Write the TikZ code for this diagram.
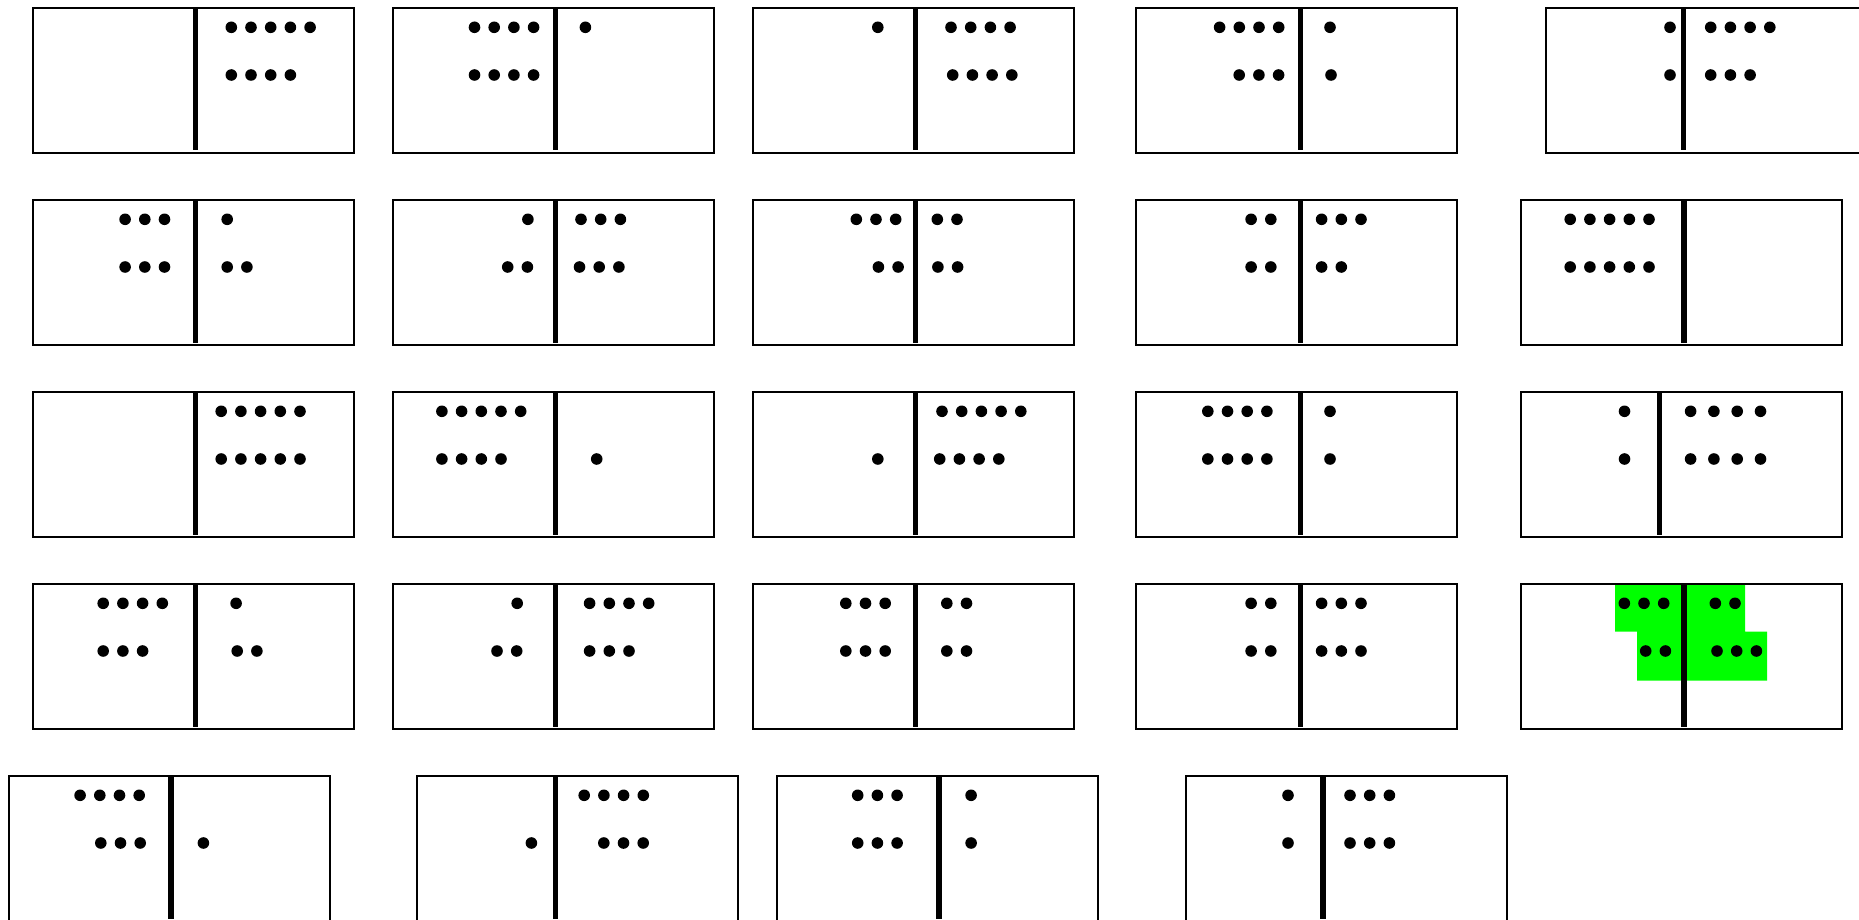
\documentclass[tikz,border=0pt]{standalone}
\usetikzlibrary{calc}
\definecolor{hitgreen}{RGB}{0,255,0}
\tikzset{
  tile/.style = {draw=black, line width=1pt},
  bar/.style  = {draw=black, line width=2.7pt},
  pip/.style  = {fill=black},
  hit/.style  = {fill=hitgreen},
}

\begin{document}
\begin{tikzpicture}[x=0.5pt, y=-0.5pt]
  \useasboundingbox (0,0) rectangle (1859,920);
  % highlighted tile
  \fill[hit] (1615,583.3) -- (1745,583.3) -- (1745,631.7) -- (1767,631.7)
    -- (1767,680.7) -- (1637,680.7) -- (1637,631.7) -- (1615,631.7) -- cycle;
  % tiles: left edge / top edge / divider
  \foreach \bx/\by/\dx in {31.5/7/195.5, 391.5/7/555.2, 751.5/7/915.2, 1135.4/7/1300.3, 1544.6/7/1683.5,
      31.5/199/195.5, 391.5/199/555.2, 751.5/199/915.2, 1135.4/199/1300.3, 1519.7/199/1684,
      31.5/391/195.5, 391.5/391/555.2, 751.5/391/915.2, 1135.4/391/1300.3, 1519.7/391/1659.7,
      31.5/583/195.5, 391.5/583/555.2, 751.5/583/915.2, 1135.4/583/1300.3, 1519.7/583/1684,
      7.7/775/170.8, 416.4/775/555.2, 776.4/775/939.1, 1184.6/775/1322.8} {
    \draw[tile] (\bx+1,\by+1) rectangle (\bx+322,\by+146);
    \draw[bar] (\dx,\by+1) -- (\dx,\by+143.5);
  }
  % pip rows: first pip x / y / count
  \foreach \px/\py/\n in {231.3/27.3/5, 231.3/75/4,
      474.5/27.3/4, 474.5/75/4, 585.4/27.3/1,
      877.8/27.3/1, 951/27.3/4, 952.7/75/4,
      1219.6/27.3/4, 1239.2/75/3, 1330/27.3/1, 1331/75/1,
      1670/27.3/1, 1670/75/1, 1710.7/27.3/4, 1710.7/75/3,
      125.1/219.3/3, 125.1/267/3, 227.2/219.3/1, 227.2/267/2,
      527.9/219.3/1, 507.7/267/2, 581/219.3/3, 579.5/267/3,
      856.3/219.3/3, 878.4/267/2, 937.3/219.3/2, 937.9/267/2,
      1251.1/219.3/2, 1251.1/267/2, 1321.6/219.3/3, 1321.6/267/2,
      1570.2/219.3/5, 1570.2/267/5,
      221.2/411.3/5, 221.2/459/5,
      441.9/411.3/5, 441.9/459/4, 596.7/459/1,
      877.8/459/1, 942/411.3/5, 939.7/459/4,
      1207.8/411.3/4, 1207.8/459/4, 1330/411.3/1, 1330/459/1,
      1624.5/411.3/1, 1624.5/459/1,
      103.2/603.3/4, 103.2/651/3, 236.1/603.3/1, 237.2/651/2,
      517.2/603.3/1, 497/651/2, 589.6/603.3/4, 589.6/651/3,
      845.8/603.3/3, 845.8/651/3, 946.8/603.3/2, 946.8/651/2,
      1251.1/603.3/2, 1251.1/651/2, 1321.6/603.3/3, 1321.6/651/3,
      1624.3/603.3/3, 1645.7/651/2, 1715.3/603.3/2, 1717/651/3,
      80.1/795.3/4, 100.8/843/3, 203.4/843/1,
      531.4/843/1, 584.2/795.3/4, 603.8/843/3,
      857.7/795.3/3, 857.7/843/3, 971.1/795.3/1, 971.1/843/1,
      1288/795.3/1, 1288/843/1, 1350/795.3/3, 1350/843/3} {
    \foreach \k in {1,...,\n}
      \fill[pip] (\px+\k*19.7-19.7,\py) circle[radius=2.9pt];
  }
  % wider row
  \foreach \py in {411.3, 459}
    \foreach \k in {0,...,3}
      \fill[pip] (1690.6+\k*23.3,\py) circle[radius=2.9pt];
\end{tikzpicture}
\end{document}
